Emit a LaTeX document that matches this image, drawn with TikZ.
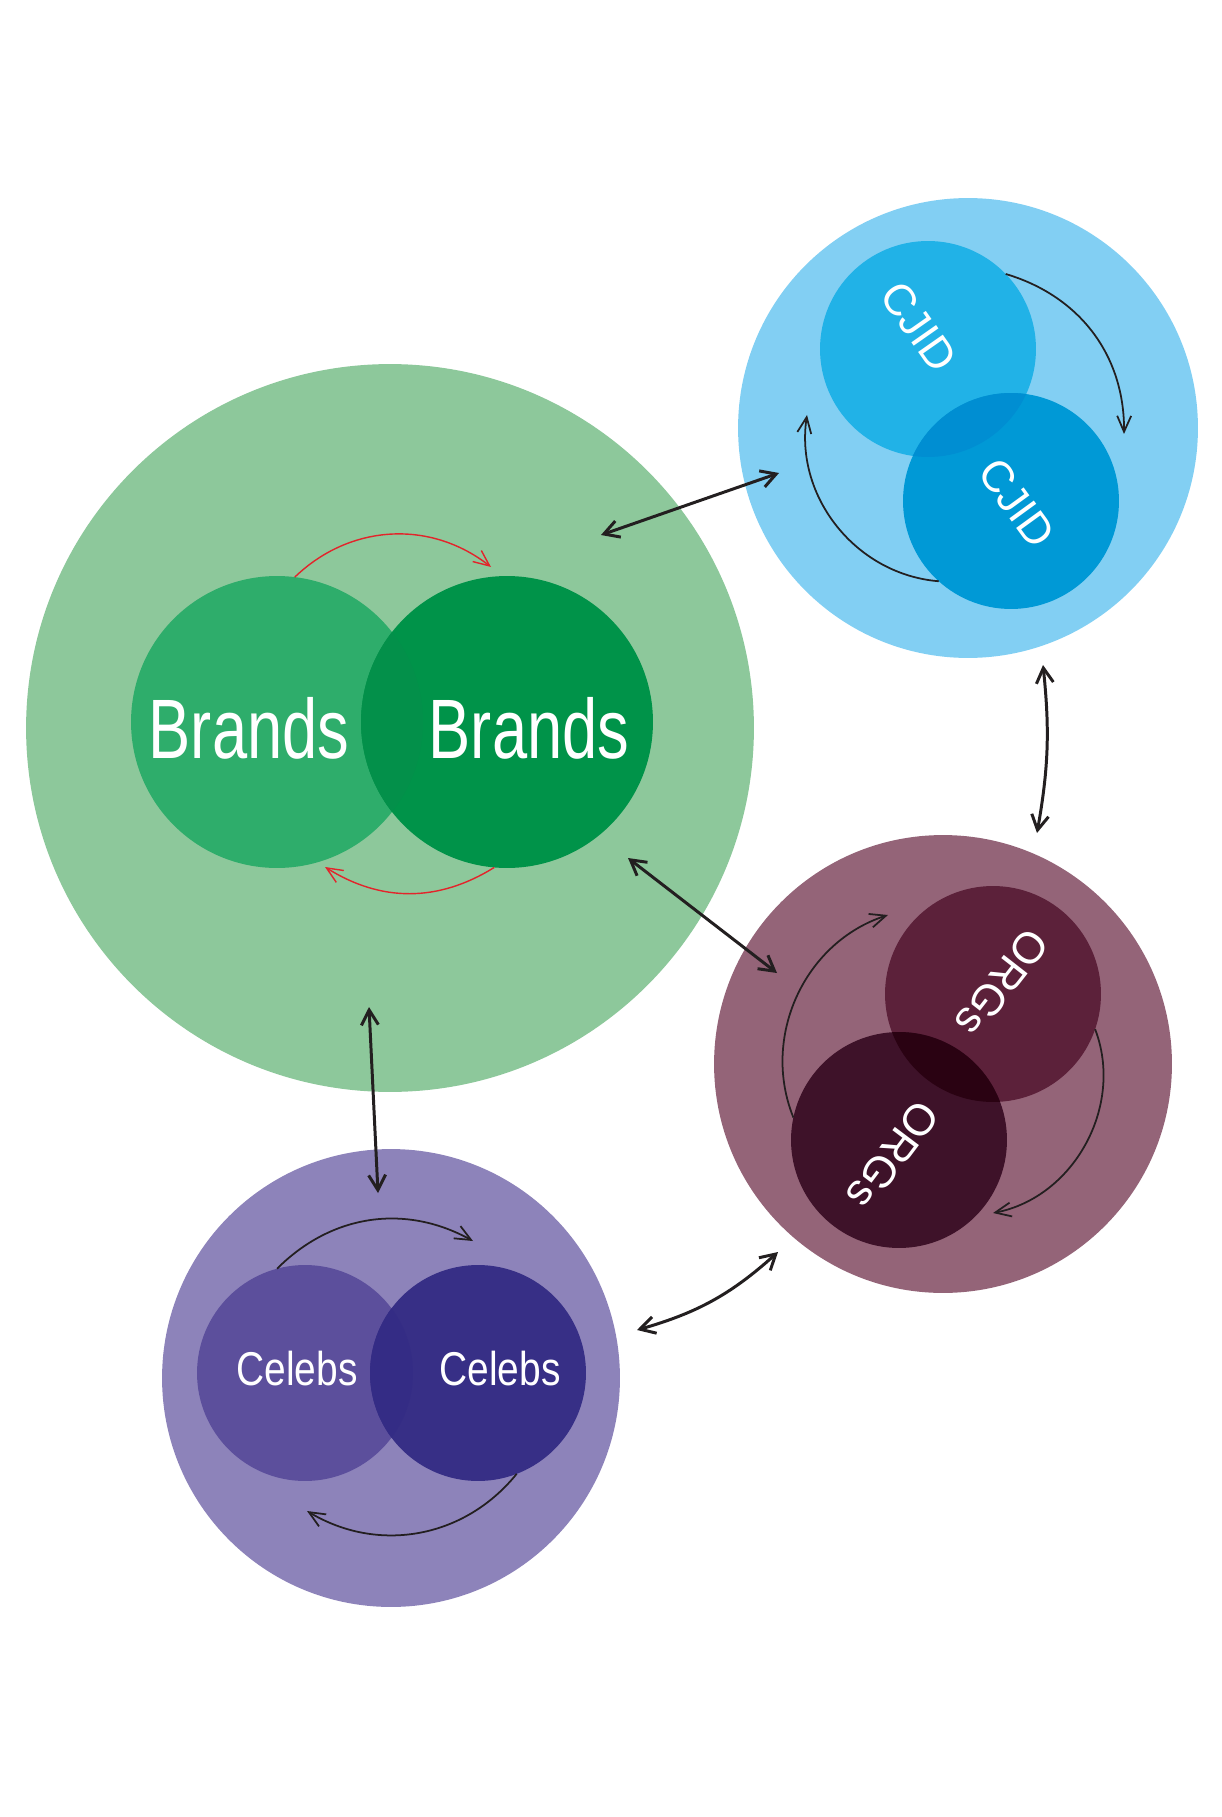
\documentclass[tikz,border=0pt]{standalone}
\usepackage{fontspec}
\setmainfont{Liberation Sans}
\newfontfamily\brandfont[FakeStretch=0.75]{Liberation Sans}
\newfontfamily\celebfont[FakeStretch=0.82]{Liberation Sans}
\usetikzlibrary{arrows.meta}
\definecolor{brandsouter}{RGB}{141,200,155}
\definecolor{brandsleft}{RGB}{46,173,107}
\definecolor{brandsright}{RGB}{0,147,73}
\definecolor{brandslens}{RGB}{3,144,74}
\definecolor{cjidouter}{RGB}{130,207,243}
\definecolor{cjidtop}{RGB}{33,178,231}
\definecolor{cjidbottom}{RGB}{0,153,214}
\definecolor{cjidlens}{RGB}{0,142,210}
\definecolor{orgsouter}{RGB}{148,100,120}
\definecolor{orgstop}{RGB}{92,33,58}
\definecolor{orgsbottom}{RGB}{62,18,41}
\definecolor{orgslens}{RGB}{42,2,18}
\definecolor{celebsouter}{RGB}{141,131,186}
\definecolor{celebsleft}{RGB}{92,79,156}
\definecolor{celebsright}{RGB}{55,47,134}
\definecolor{celebslens}{RGB}{52,44,133}
\definecolor{cyclered}{RGB}{227,36,43}
\definecolor{linkblack}{RGB}{35,31,32}

\begin{document}
\begin{tikzpicture}[x=0.02cm, y=-0.02cm,
  ring/.style={circle, inner sep=0pt, outer sep=0pt, minimum size=#1},
  word/.style={text=white, inner sep=0pt},
  grouplink/.style={{Straight Barb[length=3mm,width=3.4mm]}-{Straight Barb[length=3mm,width=3.4mm]}, line width=1.7pt, linkblack},
  innerarc/.style={-{Straight Barb[length=3.2mm,width=2.8mm]}, line width=1pt, linkblack}]
\useasboundingbox (0,0) rectangle (1221,1817);
% Outer circles
\node[ring=14.56cm, fill=brandsouter] (brandsRing) at (390,728) {};
\node[ring=9.2cm, fill=cjidouter] (cjidRing) at (968,428) {};
\node[ring=9.16cm, fill=orgsouter] (orgsRing) at (943,1064) {};
\node[ring=9.16cm, fill=celebsouter] (celebsRing) at (391,1378) {};
% Inner circles
\node[ring=5.84cm, fill=brandsleft] (brandsA) at (277,722) {};
\node[ring=5.84cm, fill=brandsright] (brandsB) at (507,722) {};
\node[ring=4.32cm, fill=cjidtop] (cjidA) at (928,349) {};
\node[ring=4.32cm, fill=cjidbottom] (cjidB) at (1011,501) {};
\node[ring=4.32cm, fill=orgstop] (orgsA) at (993,994) {};
\node[ring=4.32cm, fill=orgsbottom] (orgsB) at (899,1140) {};
\node[ring=4.32cm, fill=celebsleft] (celebsA) at (305,1373) {};
\node[ring=4.32cm, fill=celebsright] (celebsB) at (478,1373) {};
% Overlaps
\begin{scope}
  \clip (brandsA.center) circle[radius=2.92cm];
  \fill[brandslens] (brandsB.center) circle[radius=2.92cm];
\end{scope}
\begin{scope}
  \clip (cjidA.center) circle[radius=2.16cm];
  \fill[cjidlens] (cjidB.center) circle[radius=2.16cm];
\end{scope}
\begin{scope}
  \clip (orgsA.center) circle[radius=2.16cm];
  \fill[orgslens] (orgsB.center) circle[radius=2.16cm];
\end{scope}
\begin{scope}
  \clip (celebsA.center) circle[radius=2.16cm];
  \fill[celebslens] (celebsB.center) circle[radius=2.16cm];
\end{scope}
% Labels
\node[word, font=\brandfont\fontsize{48}{48}\selectfont] (brandsTextA) at (249,728) {Brands};
\node[word, font=\brandfont\fontsize{48}{48}\selectfont] (brandsTextB) at (529,728) {Brands};
\node[word, rotate=-55, font=\fontsize{25}{25}\selectfont] (cjidTextA) at (919,327) {CJID};
\node[word, rotate=-54, font=\fontsize{25}{25}\selectfont] (cjidTextB) at (1017,503) {CJID};
\node[word, rotate=-128, font=\fontsize{25}{25}\selectfont] (orgsTextA) at (1002,983) {ORGs};
\node[word, rotate=-127, font=\fontsize{25}{25}\selectfont] (orgsTextB) at (893,1155) {ORGs};
\node[word, font=\celebfont\fontsize{27}{27}\selectfont] (celebsTextA) at (297,1369) {Celebs};
\node[word, font=\celebfont\fontsize{27}{27}\selectfont] (celebsTextB) at (500,1369) {Celebs};
% Cycles inside each group
\coordinate (brandsTipA) at (491,567);
\coordinate (brandsTipB) at (325,867);
\draw[innerarc, cyclered, line width=0.8pt] (brandsA.83) to[bend left=41] (brandsTipA);
\draw[innerarc, cyclered, line width=0.8pt] (brandsB.265) to[bend left=32] (brandsTipB);
\coordinate (cjidTipA) at (1124,434);
\coordinate (cjidTipB) at (807,415);
\draw[innerarc] (cjidA.44) to[bend left=37] (cjidTipA);
\draw[innerarc] (cjidB.228) to[bend left=47] (cjidTipB);
\coordinate (orgsTipA) at (888,915);
\coordinate (orgsTipB) at (993,1213);
\draw[innerarc] (orgsB.168) to[bend left=47] (orgsTipA);
\draw[innerarc] (orgsA.341) to[bend left=50] (orgsTipB);
\coordinate (celebsTipA) at (473,1241);
\coordinate (celebsTipB) at (307,1511);
\draw[innerarc] (celebsA.105) to[bend left=37] (celebsTipA);
\draw[innerarc] (celebsB.291) to[bend left=41] (celebsTipB);
% Links between groups
\coordinate (brandsToCjid) at (601,535);
\coordinate (cjidToBrands) at (779,473);
\coordinate (cjidToOrgs) at (1043,665);
\coordinate (orgsToCjid) at (1037,833);
\coordinate (brandsToOrgs) at (628,858);
\coordinate (orgsToBrands) at (777,973);
\coordinate (brandsToCelebs) at (369,1007);
\coordinate (celebsToBrands) at (378,1193);
\coordinate (celebsToOrgs) at (637,1330);
\coordinate (orgsToCelebs) at (778,1252);
\draw[grouplink] (brandsToCjid) -- (cjidToBrands);
\draw[grouplink] (cjidToOrgs) to[bend left=8] (orgsToCjid);
\draw[grouplink] (brandsToOrgs) -- (orgsToBrands);
\draw[grouplink] (brandsToCelebs) -- (celebsToBrands);
\draw[grouplink] (celebsToOrgs) to[bend right=13] (orgsToCelebs);
\end{tikzpicture}
\end{document}
